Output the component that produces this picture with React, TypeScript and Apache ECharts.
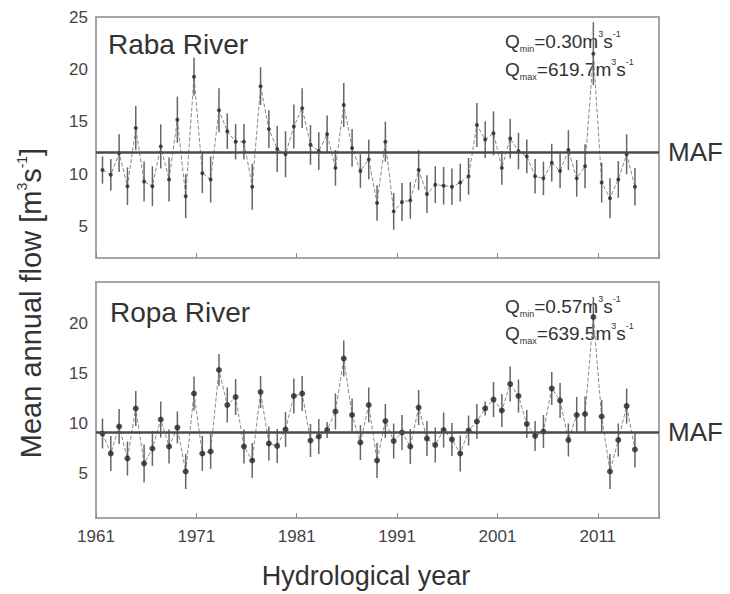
import React, { useEffect, useRef } from 'react';
import * as echarts from 'echarts';

// Tick labels of the hydrological-year axis
const xTickYears = [1961, 1971, 1981, 1991, 2001, 2011];

// Raba River: annual mean flow and half-length of the error bar (m3/s)
const rabaMean = [
  10.4, 9.95, 12.0, 8.85, 14.4, 9.3, 8.85, 12.65, 9.5, 15.2,
  7.9, 19.3, 10.1, 9.5, 16.1, 14.1, 13.1, 13.1, 8.8, 18.4,
  14.3, 12.4, 11.9, 14.55, 16.3, 12.8, 12.2, 13.8, 10.6, 16.6,
  12.5, 10.3, 11.4, 7.25, 13.1, 6.45, 7.35, 7.5, 10.4, 8.1,
  9.0, 8.9, 8.8, 9.2, 9.8, 14.7, 13.3, 13.9, 10.6, 13.4,
  12.2, 11.7, 9.8, 9.6, 11.1, 10.3, 12.3, 9.6, 10.75, 21.5,
  9.2, 7.7, 9.5, 11.9, 8.8,
];
const rabaErr = [
  1.3, 1.5, 1.8, 1.8, 2.1, 1.9, 1.9, 2.1, 2.1, 2.2,
  2.1, 1.8, 1.9, 2.2, 2.1, 1.7, 1.7, 1.7, 2.2, 1.8,
  1.8, 2.2, 2.2, 2.1, 1.9, 1.9, 1.8, 1.8, 1.7, 2.1,
  1.8, 1.6, 1.9, 1.7, 1.9, 1.75, 1.8, 1.75, 1.9, 1.8,
  1.75, 1.8, 1.75, 1.8, 1.75, 2.1, 1.75, 2.1, 1.6, 1.9,
  1.75, 1.6, 1.65, 1.6, 1.8, 1.65, 1.9, 1.75, 2.1, 3.0,
  1.9, 1.9, 1.75, 1.9, 1.8,
];
const rabaMAF = 12.1;

// Ropa River
const ropaMean = [
  8.95, 6.95, 9.65, 6.45, 11.45, 5.95, 7.45, 10.35, 7.65, 9.55,
  5.15, 12.95, 6.95, 7.15, 15.3, 11.8, 12.6, 7.65, 6.25, 13.1,
  7.95, 7.7, 9.35, 12.7, 12.95, 8.25, 8.65, 9.3, 11.15, 16.45,
  10.8, 8.05, 11.8, 6.25, 10.2, 8.2, 9.05, 7.65, 11.55, 8.45,
  7.8, 9.3, 8.35, 6.95, 9.25, 10.15, 11.45, 12.35, 11.25, 13.9,
  12.7, 9.9, 8.7, 9.15, 13.45, 12.25, 8.3, 10.8, 10.9, 20.6,
  10.65, 5.15, 8.3, 11.7, 7.35,
];
const ropaErr = [
  1.5, 1.75, 1.75, 1.7, 1.75, 1.9, 1.75, 1.8, 1.7, 1.6,
  1.75, 1.7, 1.75, 1.75, 1.6, 1.75, 1.8, 1.7, 1.75, 1.6,
  1.7, 1.7, 1.75, 1.75, 1.75, 1.65, 1.75, 0.8, 1.8, 1.8,
  1.65, 1.75, 1.75, 1.75, 1.7, 1.75, 1.75, 1.75, 1.75, 1.75,
  1.75, 1.75, 1.65, 1.8, 1.5, 1.75, 0.7, 1.75, 1.65, 1.75,
  1.65, 1.4, 1.5, 1.65, 1.65, 1.75, 1.65, 1.8, 1.75, 2.0,
  1.65, 1.75, 1.65, 1.75, 1.8,
];
const ropaMAF = 9.1;

const FONT = '"Liberation Sans", Arial, Helvetica, sans-serif';
const TXT = '#333';

function errRender(color: string, width: number) {
  return (params: any, api: any) => {
    const x = api.value(0);
    const p1 = api.coord([x, api.value(1)]);
    const p2 = api.coord([x, api.value(2)]);
    return {
      type: 'line',
      shape: { x1: p1[0], y1: p1[1], x2: p2[0], y2: p2[1] },
      style: { stroke: color, lineWidth: width },
    };
  };
}

function panelSeries(mean: number[], err: number[], maf: number, xi: number, yi: number, dot: number) {
  const pts = mean.map((v, i) => [i, v]);
  const bars = mean.map((v, i) => [i, v - err[i], v + err[i]]);
  return [
    {
      type: 'line',
      xAxisIndex: xi,
      yAxisIndex: yi,
      data: pts,
      symbol: 'none',
      z: 2,
      lineStyle: { color: '#8a8a8a', width: 1, type: [4, 2] },
      markLine: {
        silent: true,
        symbol: 'none',
        data: [{ yAxis: maf }],
        lineStyle: { color: '#4a4a4a', width: 2.5, type: 'solid' },
        label: {
          show: true,
          position: 'end',
          formatter: 'MAF',
          fontSize: 26,
          fontFamily: FONT,
          color: TXT,
          distance: 9,
        },
      },
    },
    {
      type: 'custom',
      xAxisIndex: xi,
      yAxisIndex: yi,
      data: bars,
      encode: { x: 0, y: [1, 2] },
      renderItem: errRender('#666', 1.5),
      clip: true,
      z: 3,
    },
    {
      type: 'scatter',
      xAxisIndex: xi,
      yAxisIndex: yi,
      data: pts,
      symbol: 'circle',
      symbolSize: dot,
      itemStyle: { color: '#262626' },
      z: 4,
    },
  ];
}

function qText(x: number, y: number, sub: string, val: string) {
  return {
    type: 'text',
    x,
    y,
    style: {
      text: `{a|Q}{s|${sub}}{a|=${val}m}{p|3}{a|s}{p|-1}`,
      textVerticalAlign: 'middle',
      rich: {
        a: { fontSize: 19, fontFamily: FONT, fill: TXT, color: TXT, lineHeight: 24 },
        s: { fontSize: 9, fontFamily: FONT, fill: TXT, color: TXT, verticalAlign: 'bottom', lineHeight: 24 },
        p: { fontSize: 9, fontFamily: FONT, fill: TXT, color: TXT, verticalAlign: 'top', lineHeight: 24 },
      },
    },
  };
}

const yearAxis = (gridIndex: number, showLabel: boolean) => ({
  type: 'value',
  gridIndex,
  position: 'bottom',
  min: 1961,
  max: 2017.1,
  interval: 10,
  axisLine: { show: false },
  splitLine: { show: false },
  axisTick: { show: true, inside: true, length: 5, lineStyle: { color: '#888' } },
  axisLabel: {
    show: showLabel,
    margin: 10,
    fontSize: 17,
    fontFamily: FONT,
    color: '#444',
    formatter: (v: number) => (xTickYears.includes(v) ? String(v) : ''),
  },
});

const indexAxis = (gridIndex: number) => ({
  type: 'value',
  gridIndex,
  show: false,
  min: -0.78,
  max: 66.89,
});

const valueAxis = (gridIndex: number, min: number, max: number) => ({
  type: 'value',
  gridIndex,
  min,
  max,
  axisLine: { show: false },
  axisTick: { show: false },
  splitLine: { show: false },
  axisLabel: {
    margin: 8,
    fontSize: 17,
    fontFamily: FONT,
    color: '#444',
    formatter: (v: number) => (v % 5 === 0 ? String(v) : ''),
  },
});

export default function App() {
  const ref = useRef<HTMLDivElement>(null);
  useEffect(() => {
    if (!ref.current) return;
    const chart = echarts.init(ref.current, undefined, { renderer: 'svg' });
    const option: any = {
      animation: false,
      backgroundColor: '#fff',
      grid: [
        { left: 96, top: 17, width: 563, height: 241, show: true, borderColor: '#a5a5a5', borderWidth: 2, containLabel: false, outerBoundsMode: 'none' },
        { left: 96, top: 282, width: 563, height: 236, show: true, borderColor: '#a5a5a5', borderWidth: 2, containLabel: false, outerBoundsMode: 'none' },
      ],
      xAxis: [indexAxis(0), yearAxis(0, false), indexAxis(1), yearAxis(1, true)],
      yAxis: [valueAxis(0, 2, 25), valueAxis(1, 0.5, 24.1)],
      series: [
        ...panelSeries(rabaMean, rabaErr, rabaMAF, 0, 0, 4),
        ...panelSeries(ropaMean, ropaErr, ropaMAF, 2, 1, 6),
      ],
      graphic: [
        { type: 'text', x: 108, y: 44, style: { text: 'Raba River', font: `28px ${FONT}`, fill: TXT, textVerticalAlign: 'middle' } },
        { type: 'text', x: 110, y: 312, style: { text: 'Ropa River', font: `28px ${FONT}`, fill: TXT, textVerticalAlign: 'middle' } },
        qText(505, 41, 'min', '0.30'),
        qText(505, 69, 'max', '619.7'),
        qText(505, 306, 'min', '0.57'),
        qText(505, 333, 'max', '639.5'),
        {
          type: 'text',
          x: 366,
          y: 576,
          style: { text: 'Hydrological year', font: `27px ${FONT}`, fill: TXT, textAlign: 'center', textVerticalAlign: 'middle' },
        },
        {
          type: 'text',
          x: 31,
          y: 303,
          rotation: Math.PI / 2,
          style: {
            text: '{t|Mean annual flow [m}{p|3}{t|s}{p|-1}{t|]}',
            textAlign: 'center',
            textVerticalAlign: 'middle',
            rich: {
              t: { fontSize: 29, fontFamily: FONT, fill: TXT, lineHeight: 32 },
              p: { fontSize: 14, fontFamily: FONT, fill: TXT, verticalAlign: 'top', lineHeight: 32 },
            },
          },
        },
      ],
    };
    chart.setOption(option);
    return () => chart.dispose();
  }, []);
  return <div ref={ref} style={{ position: 'fixed', left: 0, top: 0, width: 730, height: 594 }} />;
}
